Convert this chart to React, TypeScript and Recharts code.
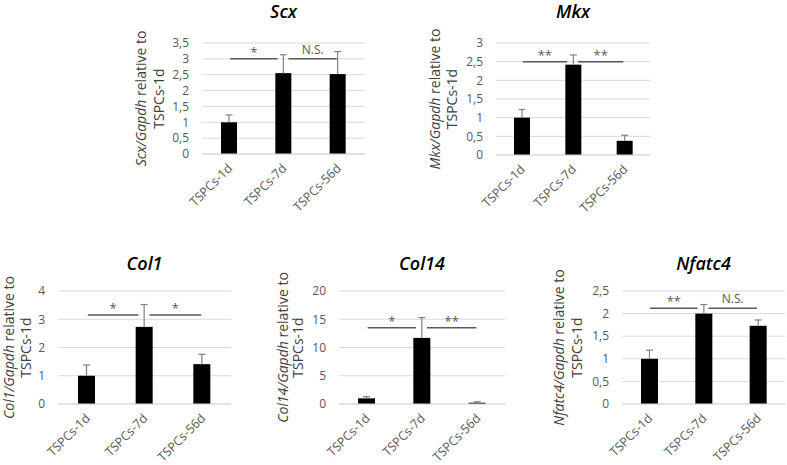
import React from 'react';
import { BarChart, Bar, XAxis, YAxis, CartesianGrid, ReferenceLine } from 'recharts';

const categories = ['TSPCs-1d', 'TSPCs-7d', 'TSPCs-56d'];

const scxValues = [1.0, 2.55, 2.52];
const scxErrors = [0.23, 0.58, 0.71];
const scxTicks = [0, 0.5, 1, 1.5, 2, 2.5, 3, 3.5];
const scxSig = ['*', 'N.S.'];
const scxSigLevel = 3.0;

const mkxValues = [1.0, 2.42, 0.38];
const mkxErrors = [0.22, 0.26, 0.15];
const mkxTicks = [0, 0.5, 1, 1.5, 2, 2.5, 3];
const mkxSig = ['**', '**'];
const mkxSigLevel = 2.5;

const col1Values = [1.0, 2.73, 1.41];
const col1Errors = [0.38, 0.79, 0.35];
const col1Ticks = [0, 1, 2, 3, 4];
const col1Sig = ['*', '*'];
const col1SigLevel = 3.15;

const col14Values = [1.0, 11.7, 0.23];
const col14Errors = [0.3, 3.6, 0.17];
const col14Ticks = [0, 5, 10, 15, 20];
const col14Sig = ['*', '**'];
const col14SigLevel = 13.5;

const nfatc4Values = [1.0, 2.0, 1.73];
const nfatc4Errors = [0.19, 0.2, 0.13];
const nfatc4Ticks = [0, 0.5, 1, 1.5, 2, 2.5];
const nfatc4Sig = ['**', 'N.S.'];
const nfatc4SigLevel = 2.12;

const FONT = "'Open Sans', sans-serif";
const TICK_COLOR = '#595959';
const GRID = '#d9d9d9';
const SIG_COLOR = '#595959';
const ERR_COLOR = '#808080';

const ML = 50; // margin left
const YW = 30; // y axis width
const MT = 45;
const MR = 5;
const MB = 0;
const XH = 80;

const fmt = (v: number) => String(v).replace('.', ',');

const BarWithError = (props: any) => {
  const { x, y, width, height, payload } = props;
  const v = payload.value;
  const pxPerUnit = v !== 0 ? height / v : 0;
  const errTop = y - payload.err * pxPerUnit;
  const cx = x + width / 2;
  return (
    <g>
      <rect x={x} y={y} width={width} height={height} fill="#000" />
      <line x1={cx} x2={cx} y1={y} y2={errTop} stroke={ERR_COLOR} strokeWidth={1.2} />
      <line x1={cx - 3.5} x2={cx + 3.5} y1={errTop} y2={errTop} stroke={ERR_COLOR} strokeWidth={1.2} />
    </g>
  );
};

const XTick = (props: any) => {
  const { x, y, payload } = props;
  const tx = x + 4;
  const ty = y + 15;
  return (
    <text
      x={tx}
      y={ty}
      transform={`rotate(-45 ${tx} ${ty})`}
      textAnchor="end"
      fontSize={12.5}
      fill={TICK_COLOR}
      fontFamily={FONT}
    >
      {payload.value}
    </text>
  );
};

const makeSigShape = (label: string, d1: number, d2: number, isNS: boolean) => (p: any) => {
  const x1 = p.x1 + d1;
  const x2 = p.x2 + d2;
  const yy = p.y1;
  const mid = (x1 + x2) / 2;
  return (
    <g>
      <line x1={x1} x2={x2} y1={yy} y2={yy} stroke={SIG_COLOR} strokeWidth={1.5} />
      <text
        x={mid}
        y={isNS ? yy - 5 : yy - 2}
        textAnchor="middle"
        fontSize={isNS ? 12 : 13}
        fill={SIG_COLOR}
        fontFamily={FONT}
      >
        {label}
      </text>
    </g>
  );
};

const YLabel = (props: any) => {
  const { gene, off1, off2, plotH } = props;
  const px = ML + YW;
  const cy = MT + plotH / 2;
  const x1 = px + off1;
  const x2 = px + off2;
  return (
    <g>
      <text
        x={x1}
        y={cy}
        transform={`rotate(-90 ${x1} ${cy})`}
        textAnchor="middle"
        dominantBaseline="central"
        fontSize={14}
        fill="#404040"
        fontFamily={FONT}
      >
        <tspan fontStyle="italic">{gene}/Gapdh</tspan> relative to
      </text>
      <text
        x={x2}
        y={cy}
        transform={`rotate(-90 ${x2} ${cy})`}
        textAnchor="middle"
        dominantBaseline="central"
        fontSize={14}
        fill="#404040"
        fontFamily={FONT}
      >
        TSPCs-1d
      </text>
    </g>
  );
};

type PanelProps = {
  gene: string;
  values: number[];
  errors: number[];
  ticks: number[];
  sig: string[];
  sigLevel: number;
  plotLeft: number;
  plotTop: number;
  plotW: number;
  plotH: number;
  barSize: number;
  off1: number;
  off2: number;
  titleDy: number;
};

const Panel = (p: PanelProps) => {
  const data = categories.map((c, i) => ({ name: c, value: p.values[i], err: p.errors[i] }));
  const W = ML + YW + p.plotW + MR;
  const H = MT + p.plotH + MB + XH;
  const left = p.plotLeft - ML - YW;
  const top = p.plotTop - MT;
  const maxV = p.ticks[p.ticks.length - 1];
  return (
    <>
      <div
        style={{
          position: 'absolute',
          left: p.plotLeft,
          top: p.plotTop - 42 + p.titleDy,
          width: p.plotW,
          textAlign: 'center',
          fontFamily: FONT,
          fontStyle: 'italic',
          fontWeight: 600,
          fontSize: 18,
          lineHeight: '22px',
          color: '#000',
        }}
      >
        {p.gene}
      </div>
      <div style={{ position: 'absolute', left, top, width: W, height: H }}>
        <BarChart
          width={W}
          height={H}
          data={data}
          margin={{ top: MT, right: MR, bottom: MB, left: ML }}
          barCategoryGap={0}
        >
          <CartesianGrid horizontal vertical={false} stroke={GRID} />
          <XAxis
            dataKey="name"
            type="category"
            interval={0}
            height={XH}
            tickLine={false}
            tickSize={0}
            tickMargin={0}
            axisLine={{ stroke: GRID }}
            tick={<XTick />}
          />
          <YAxis
            type="number"
            domain={[0, maxV]}
            ticks={p.ticks}
            interval={0}
            width={YW}
            tickLine={false}
            axisLine={false}
            tickSize={0}
            tickMargin={13}
            tickFormatter={fmt}
            tick={{ fontSize: 12, fill: TICK_COLOR, fontFamily: FONT }}
            label={<YLabel gene={p.gene} off1={p.off1} off2={p.off2} plotH={p.plotH} />}
          />
          <Bar dataKey="value" barSize={p.barSize} isAnimationActive={false} shape={BarWithError} />
          <ReferenceLine
            segment={[
              { x: categories[0], y: p.sigLevel },
              { x: categories[1], y: p.sigLevel },
            ]}
            position="middle"
            shape={makeSigShape(p.sig[0], 1, -6, p.sig[0] === 'N.S.')}
          />
          <ReferenceLine
            segment={[
              { x: categories[1], y: p.sigLevel },
              { x: categories[2], y: p.sigLevel },
            ]}
            position="middle"
            shape={makeSigShape(p.sig[1], 5, -1, p.sig[1] === 'N.S.')}
          />
        </BarChart>
      </div>
    </>
  );
};

export default function App() {
  return (
    <div
      style={{
        position: 'absolute',
        left: 0,
        top: 0,
        width: 787,
        height: 465,
        overflow: 'hidden',
        background: '#fff',
        fontFamily: FONT,
      }}
    >
      <Panel gene="Scx" values={scxValues} errors={scxErrors} ticks={scxTicks} sig={scxSig} sigLevel={scxSigLevel}
        plotLeft={202} plotTop={43} plotW={163} plotH={111} barSize={16} off1={-62} off2={-44} titleDy={-1} />
      <Panel gene="Mkx" values={mkxValues} errors={mkxErrors} ticks={mkxTicks} sig={mkxSig} sigLevel={mkxSigLevel}
        plotLeft={496} plotTop={43} plotW={154} plotH={112} barSize={16} off1={-62} off2={-45} titleDy={-1} />
      <Panel gene="Col1" values={col1Values} errors={col1Errors} ticks={col1Ticks} sig={col1Sig} sigLevel={col1SigLevel}
        plotLeft={58} plotTop={291} plotW={173} plotH={113} barSize={17} off1={-50} off2={-33} titleDy={3} />
      <Panel gene="Col14" values={col14Values} errors={col14Errors} ticks={col14Ticks} sig={col14Sig} sigLevel={col14SigLevel}
        plotLeft={339} plotTop={291} plotW={166} plotH={113} barSize={17} off1={-57} off2={-42} titleDy={3} />
      <Panel gene="Nfatc4" values={nfatc4Values} errors={nfatc4Errors} ticks={nfatc4Ticks} sig={nfatc4Sig} sigLevel={nfatc4SigLevel}
        plotLeft={622} plotTop={291} plotW={163} plotH={113} barSize={17} off1={-64} off2={-46} titleDy={3} />
    </div>
  );
}
